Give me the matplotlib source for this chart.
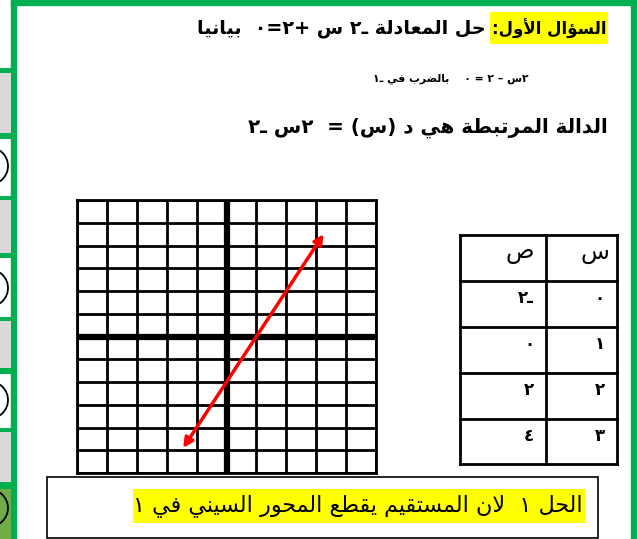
import matplotlib
matplotlib.use('Agg')
import matplotlib.pyplot as plt
from matplotlib.patches import Rectangle, Circle

# Data read from the worksheet
title_label = 'السؤال الأول:'
title_rest = 'حل المعادلة ـ٢ س +٢=٠  بيانيا'
step_line = '٢س – ٢ = ٠    بالضرب في ـ١'
func_line = 'الدالة المرتبطة هي د (س) =  ٢س ـ٢'
answer_line = 'الحل ١  لان المستقيم يقطع المحور السيني في ١'

table_head = ['س', 'ص']
table_x = ['٠', '١', '٢', '٣']
table_y = ['ـ٢', '٠', '٢', '٤']

# red line drawn on the grid (end points)
line_x = [-1.45, 3.25]
line_y = [-4.9, 4.5]

GREEN = '#00B050'
GRAY = '#D9D9D9'
OLIVE = '#70AD47'
YELLOW = '#FFFF00'

# --- small Arabic shaper (matplotlib has no complex text layout) ---
DUAL = {'ئ': 0xFE89, 'ب': 0xFE8F, 'ت': 0xFE95, 'ث': 0xFE99, 'ج': 0xFE9D,
        'ح': 0xFEA1, 'خ': 0xFEA5, 'س': 0xFEB1, 'ش': 0xFEB5, 'ص': 0xFEB9,
        'ض': 0xFEBD, 'ط': 0xFEC1, 'ظ': 0xFEC5, 'ع': 0xFEC9, 'غ': 0xFECD,
        'ف': 0xFED1, 'ق': 0xFED5, 'ك': 0xFED9, 'ل': 0xFEDD, 'م': 0xFEE1,
        'ن': 0xFEE5, 'ه': 0xFEE9, 'ي': 0xFEF1}
RIGHT = {'آ': 0xFE81, 'أ': 0xFE83, 'ؤ': 0xFE85, 'إ': 0xFE87, 'ا': 0xFE8D,
         'ة': 0xFE93, 'د': 0xFEA9, 'ذ': 0xFEAB, 'ر': 0xFEAD, 'ز': 0xFEAF,
         'و': 0xFEED, 'ى': 0xFEEF}
LAMALEF = {'آ': 0xFEF5, 'أ': 0xFEF7, 'إ': 0xFEF9, 'ا': 0xFEFB}
MIRROR = {'(': ')', ')': '('}


def shape(s):
    out = []
    i = 0
    while i < len(s):
        c = s[i]
        prev = s[i - 1] if i > 0 else ''
        nxt = s[i + 1] if i + 1 < len(s) else ''
        p = prev in DUAL or prev == 'ـ'
        if c == 'ل' and nxt in LAMALEF:
            out.append(chr(LAMALEF[nxt] + (1 if p else 0)))
            i += 2
            continue
        if c in DUAL:
            n = nxt in DUAL or nxt in RIGHT or nxt == 'ـ'
            out.append(chr(DUAL[c] + (3 if p and n else 1 if p else 2 if n else 0)))
        elif c in RIGHT:
            out.append(chr(RIGHT[c] + (1 if p else 0)))
        else:
            out.append(c)
        i += 1
    return ''.join(out)


def ar(s):
    return ''.join(MIRROR.get(ch, ch) for ch in reversed(shape(s)))


plt.rcParams['font.family'] = ['DejaVu Sans']

fig = plt.figure(figsize=(6.37, 5.39), dpi=100)
page = fig.add_axes([0, 0, 1, 1])
page.set_xlim(0, 637)
page.set_ylim(539, 0)
page.axis('off')

# green frame
page.add_patch(Rectangle((11, 0), 626, 5, color=GREEN))
page.add_patch(Rectangle((11, 0), 5, 539, color=GREEN))
page.add_patch(Rectangle((631, 0), 6, 539, color=GREEN))

# left strip of the page
strip = [(68, 73, GREEN), (73, 133, GRAY), (133, 139, GREEN), (196, 200, GREEN),
         (200, 253, GRAY), (253, 258, GREEN), (317, 321, GREEN), (321, 368, GRAY),
         (368, 374, GREEN), (428, 432, GREEN), (432, 482, GRAY), (482, 489, GREEN),
         (489, 539, OLIVE)]
for y0, y1, col in strip:
    page.add_patch(Rectangle((0, y0), 11, y1 - y0, color=col, lw=0))
for cy in [166, 288, 400, 508]:
    page.add_patch(Circle((-10.5, cy), 18.5, fill=False, ec='black', lw=1.3))

# title lines
page.add_patch(Rectangle((490, 12), 118, 32, color=YELLOW, lw=0))
page.text(606, 29, ar(title_label), ha='right', va='center', fontsize=12,
          fontweight='bold')
page.text(486, 29, ar(title_rest), ha='right', va='center', fontsize=13.8,
          fontweight='bold')
page.text(529, 79, ar(step_line), ha='right', va='center', fontsize=7.8,
          fontweight='bold')
page.text(608, 128, ar(func_line), ha='right', va='center', fontsize=14.3,
          fontweight='bold')

# table
tx0, tmid, tx1 = 460, 546, 617
rows = [235, 281, 327, 373, 419, 464]
for y in rows:
    page.plot([tx0, tx1], [y, y], color='black', lw=2)
for x in [tx0, tmid, tx1]:
    page.plot([x, x], [rows[0], rows[-1]], color='black', lw=2)
page.text(tx1 - 8, 252, ar(table_head[0]), ha='right', va='center', fontsize=17)
page.text(tmid - 12, 252, ar(table_head[1]), ha='right', va='center', fontsize=17)
for i in range(len(table_x)):
    yy = rows[i + 1] + 17
    page.text(tx1 - 12, yy, ar(table_x[i]), ha='right', va='center', fontsize=12,
              fontweight='bold')
    page.text(tmid - 12, yy, ar(table_y[i]), ha='right', va='center', fontsize=12,
              fontweight='bold')

# answer box
page.add_patch(Rectangle((47, 477), 551, 61, fill=False, ec='black', lw=1.2))
page.add_patch(Rectangle((133, 489), 452, 34, color=YELLOW, lw=0))
page.text(583, 506, ar(answer_line), ha='right', va='center', fontsize=16)

# coordinate grid
ax = fig.add_axes([77 / 637, 1 - 473 / 539, 299 / 637, 273 / 539])
ax.set_xlim(-5, 5)
ax.set_ylim(-6, 6)
ax.set_xticks(range(-5, 6))
ax.set_yticks(range(-6, 7))
ax.tick_params(length=0, labelbottom=False, labelleft=False)
ax.grid(True, color='black', lw=2)
for s in ax.spines.values():
    s.set_linewidth(2)
ax.axhline(0, color='black', lw=4.5)
ax.axvline(0, color='black', lw=4.5)
ax.annotate('', xy=(line_x[1], line_y[1]), xytext=(line_x[0], line_y[0]),
            arrowprops=dict(arrowstyle='<|-|>', color='#FF0000', lw=2.5,
                            mutation_scale=14, shrinkA=0, shrinkB=0))

fig.savefig('out.png', dpi=100)
